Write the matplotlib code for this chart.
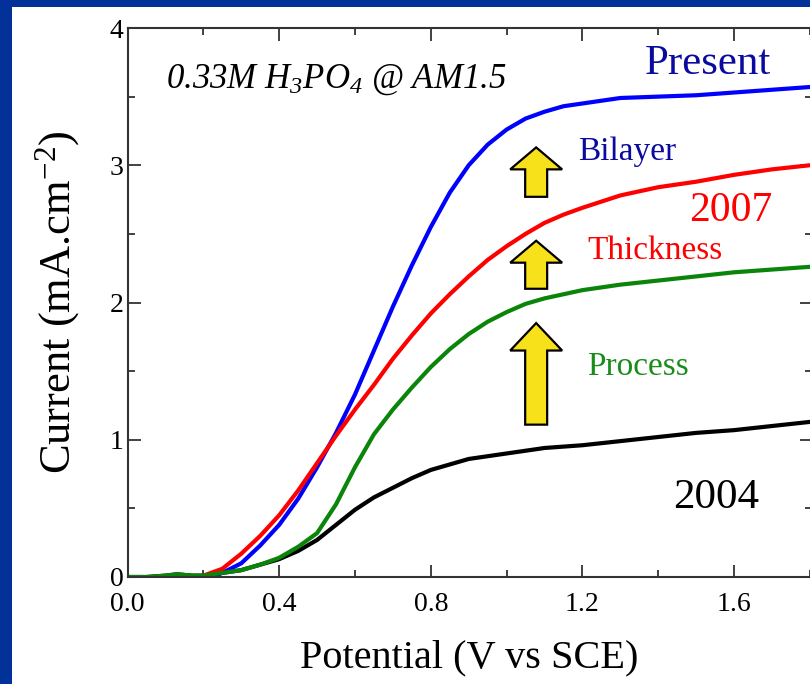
import matplotlib
matplotlib.use("Agg")
import matplotlib.pyplot as plt
from matplotlib.patches import Rectangle, FancyArrow
from matplotlib.ticker import MultipleLocator

plt.rcParams['font.family'] = ['Liberation Serif', 'DejaVu Serif']
plt.rcParams['mathtext.fontset'] = 'custom'
plt.rcParams['mathtext.rm'] = 'Liberation Serif'
plt.rcParams['mathtext.it'] = 'Liberation Serif:italic'

# ---- data ----
v_present = [0.22, 0.25, 0.30, 0.35, 0.40, 0.45, 0.50, 0.55, 0.60, 0.65, 0.70, 0.75, 0.80,
             0.85, 0.90, 0.95, 1.00, 1.05, 1.10, 1.15, 1.20, 1.30, 1.40, 1.50, 1.60, 1.70, 1.80]
i_present = [0.00, 0.03, 0.10, 0.23, 0.38, 0.57, 0.80, 1.05, 1.33, 1.65, 1.97, 2.27, 2.55,
             2.80, 3.00, 3.15, 3.26, 3.34, 3.39, 3.43, 3.45, 3.49, 3.50, 3.51, 3.53, 3.55, 3.57]

v_2007 = [0.19, 0.25, 0.30, 0.35, 0.40, 0.45, 0.50, 0.55, 0.60, 0.65, 0.70, 0.75, 0.80,
          0.85, 0.90, 0.95, 1.00, 1.05, 1.10, 1.15, 1.20, 1.30, 1.40, 1.50, 1.60, 1.70, 1.80]
i_2007 = [0.00, 0.06, 0.17, 0.30, 0.45, 0.63, 0.83, 1.03, 1.22, 1.40, 1.59, 1.76, 1.92,
          2.06, 2.19, 2.31, 2.41, 2.50, 2.58, 2.64, 2.69, 2.78, 2.84, 2.88, 2.93, 2.97, 3.00]

v_process = [0.00, 0.05, 0.10, 0.13, 0.17, 0.20, 0.25, 0.30, 0.35, 0.40, 0.45, 0.50, 0.55,
             0.60, 0.65, 0.70, 0.75, 0.80, 0.85, 0.90, 0.95, 1.00, 1.05, 1.10, 1.20, 1.30,
             1.40, 1.50, 1.60, 1.70, 1.80]
i_process = [0.00, 0.00, 0.01, 0.02, 0.01, 0.01, 0.03, 0.05, 0.09, 0.14, 0.22, 0.32, 0.53,
             0.80, 1.04, 1.22, 1.38, 1.53, 1.66, 1.77, 1.86, 1.93, 1.99, 2.03, 2.09, 2.13,
             2.16, 2.19, 2.22, 2.24, 2.26]

v_2004 = [0.00, 0.05, 0.10, 0.13, 0.17, 0.20, 0.25, 0.30, 0.35, 0.40, 0.45, 0.50, 0.55,
          0.60, 0.65, 0.70, 0.75, 0.80, 0.85, 0.90, 0.95, 1.00, 1.10, 1.20, 1.30, 1.40,
          1.50, 1.60, 1.70, 1.80]
i_2004 = [0.00, 0.00, 0.01, 0.02, 0.01, 0.01, 0.03, 0.05, 0.09, 0.13, 0.19, 0.27, 0.38,
          0.49, 0.58, 0.65, 0.72, 0.78, 0.82, 0.86, 0.88, 0.90, 0.94, 0.96, 0.99, 1.02,
          1.05, 1.07, 1.10, 1.13]

x_ticks = [0.0, 0.4, 0.8, 1.2, 1.6]
x_ticklabels = ["0.0", "0.4", "0.8", "1.2", "1.6"]
y_ticks = [0, 1, 2, 3, 4]
y_ticklabels = ["0", "1", "2", "3", "4"]

# arrows: (x, bottom, top)
arrow_x = [1.078, 1.078, 1.078]
arrow_bottom = [2.77, 2.10, 1.11]
arrow_top = [3.13, 2.45, 1.85]

# ---- figure ----
fig = plt.figure(figsize=(8.1, 6.84), dpi=100)
fig.patch.set_facecolor('white')

# navy slide border (top and left)
border = '#03319a'
fig.patches.append(Rectangle((0, 0), 12 / 810, 1, transform=fig.transFigure,
                             facecolor=border, edgecolor='none', zorder=0))
fig.patches.append(Rectangle((0, 1 - 7 / 684), 1, 7 / 684, transform=fig.transFigure,
                             facecolor=border, edgecolor='none', zorder=0))

ax = fig.add_axes([127.6 / 810, 107 / 684, 684.1 / 810, 549 / 684])
ax.set_xlim(0, 1.805)
ax.set_ylim(0, 4)

lw = 3.0
ax.plot(v_2004, i_2004, color='black', lw=lw, solid_capstyle='round')
ax.plot(v_present, i_present, color='#0000ff', lw=lw, solid_capstyle='round')
ax.plot(v_2007, i_2007, color='#ff0000', lw=lw, solid_capstyle='round')
ax.plot(v_process, i_process, color='#0a850a', lw=lw, solid_capstyle='round')

# ticks
ax.set_xticks(x_ticks)
ax.set_xticklabels(x_ticklabels)
ax.set_yticks(y_ticks)
ax.set_yticklabels(y_ticklabels)
ax.xaxis.set_minor_locator(MultipleLocator(0.2))
ax.yaxis.set_minor_locator(MultipleLocator(0.5))
ax.tick_params(which='both', direction='in', top=True, right=True, color='#333333',
               width=1.3, labelsize=20)
ax.tick_params(axis='x', which='both', pad=11)
ax.tick_params(axis='y', which='both', pad=3)
ax.tick_params(which='major', length=9)
ax.tick_params(which='minor', length=5)
for s in ax.spines.values():
    s.set_color('#333333')
    s.set_linewidth(1.5)

ax.set_xlabel('Potential (V vs SCE)', fontsize=29, labelpad=16)
ax.set_ylabel(r'Current (mA.cm$^{\mathregular{-2}}$)', fontsize=32, labelpad=20)

# annotations
ax.text(0.10, 3.62, r'0.33M H$\mathregular{_3}$PO$\mathregular{_4}$ @ AM1.5',
        fontsize=25, fontstyle='italic', ha='left', va='center')
ax.text(1.531, 3.74, 'Present', fontsize=31, color='#0a0a9e', ha='center', va='center')
ax.text(1.189, 3.10, 'Bilayer', fontsize=24, color='#0a0a9e', ha='left', va='center')
ax.text(1.592, 2.67, '2007', fontsize=30, color='#ff0000', ha='center', va='center')
ax.text(1.212, 2.38, 'Thickness', fontsize=24, color='#ff0000', ha='left', va='center')
ax.text(1.212, 1.53, 'Process', fontsize=24, color='#1a8c1a', ha='left', va='center')
ax.text(1.553, 0.58, '2004', fontsize=31, color='black', ha='center', va='center')

for x, b, t in zip(arrow_x, arrow_bottom, arrow_top):
    hl = 0.16 if (t - b) < 0.5 else 0.2
    ax.add_patch(FancyArrow(x, b, 0, t - b, width=0.058, head_width=0.137,
                            head_length=hl, length_includes_head=True,
                            facecolor='#f7e11a', edgecolor='black', linewidth=1.6,
                            zorder=5))

fig.savefig('out.png', dpi=100)
